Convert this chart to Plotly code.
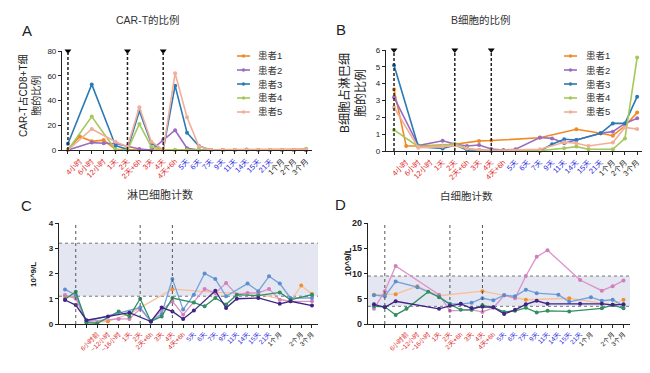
import plotly.graph_objects as go

W, H = 650, 373
def px(x): return x / W
def py(y): return 1 - y / H

FONT = "Liberation Sans, Noto Sans CJK SC, sans-serif"
RED, BLUE, BLACK = "#e02b2b", "#2b2bdf", "#222222"

# ---------------- data ----------------
AB_labels = ["", "4小时", "6小时", "12小时", "1天", "2天", "2天+6h", "3天", "4天", "4天+6h",
             "5天", "6天", "7天", "9天", "11天", "14天", "15天", "21天", "1个月", "2个月", "3个月"]
CD_labels = ["", "", "", "6小时前", "~12小时", "~16小时", "1天", "2天", "2天+6h", "3天", "4天", "4天+6h",
             "5天", "6天", "7天", "9天", "11天", "14天", "15天", "21天", "1个月", "", "2个月", "3个月"]
patients = ["患者1", "患者2", "患者3", "患者4", "患者5"]

N = None
# Panel A: CAR-T in CD8+ T (%)
A_p1 = [0.5, 11, 7, 8, 0.5, 0, 0, 0, 0, 0, 0, 0, 0, 0, 0, 0, 0, 0, 0, 0, 0.5]
A_p2 = [0, N, 6, 5.5, 5, 3, 0.8, 0, 8, 16, 1.4, 0, 0, 0, 0, 0.5, 0, 0, 0, 0, 0]
A_p3 = [5, N, 53, N, 3.5, 0.5, 31.5, 5.5, 0, 52, 14, 3.2, 0, 0, 0, 0, 0, 0, 0, 0, 0]
A_p4 = [0, N, 27, N, 0, 0, 21, 2.7, 0, 0, 0, 0, 0, 0, 0, 0, 0, 0, 0, 0, 1]
A_p5 = [0, N, 17, N, 6.7, 2.7, 34.5, 6.7, 0, 62, 26.4, 3, 0, 0, 0, 0, 0, 0, 0, 0, 0.5]

# Panel B: B cells in lymphocytes (%)
B_p1 = [3.66, 0.3, 0.3, N, N, 0.4, N, 0.6, 0.62, N, N, N, 0.79, N, N, 1.29, N, 1.05, 0.91, 1.5, 2.28]
B_p2 = [3.19, N, 0.32, N, 0.61, 0.42, 0.3, 0.36, 0.12, 0.06, 0.1, N, 0.8, 0.75, 0.46, 0.65, N, 1.05, 1.15, 1.64, 1.94]
B_p3 = [5.1, N, 0.26, N, 0.15, 0.35, 0.06, 0.06, 0.0, N, N, N, 0.0, 0.4, 0.7, 0.65, N, 1.05, 1.64, 1.64, 3.23]
B_p4 = [1.25, N, 0.26, N, 0.32, 0.42, 0.16, 0.06, 0.02, N, N, N, 0.02, N, 0.16, 0.26, 0.1, N, 0.1, 0.75, 5.55]
B_p5 = [2.6, N, 0.2, N, 0.26, 0.32, 0.15, 0.06, 0.03, N, N, N, 0.1, N, 0.52, 0.46, 0.3, N, 0.5, 1.4, 1.3]

# Panel C: lymphocyte count (10^9/L)
C_orange = [1.1, 1.05, 0.05, N, 0.1, N, 0.4, N, N, N, 1.38, N, N, N, 1.25, N, N, N, 1.19, N, N, 0.9, 1.52, 1.19]
C_pink   = [1.15, 1.0, 0.1, N, N, 0.2, 0.2, 0.6, 0.1, 0.55, 0.9, 0.37, N, 1.39, 1.23, 1.62, 1.16, 1.23, 1.23, 1.39, 0.96, 0.9, N, 0.9]
C_blue   = [1.37, 1.15, 0.1, N, N, N, N, 0.65, 0.1, 0.4, 1.78, 0.57, 1.16, 2.0, 1.78, 1.1, N, 1.6, 1.3, 1.89, 1.6, 1.03, N, 1.03]
C_green  = [0.98, 1.28, 0.05, 0.03, N, 0.5, 0.3, 1.0, 0.1, 0.3, 1.03, N, 0.85, 0.7, 1.03, 0.77, 1.16, N, 1.12, N, 1.25, 0.96, N, 1.16]
C_purple = [0.95, 0.75, 0.15, N, 0.3, N, 0.45, N, 0.1, 0.65, 0.5, 0.2, 0.53, N, 1.32, 0.63, 1.0, N, 1.03, N, 0.8, 0.9, N, 0.73]

# Panel D: white blood cell count (10^9/L)
D_orange = [5.8, 5.8, 5.9, N, 7.5, N, 5.6, N, N, N, 6.5, N, 5.7, N, 4.8, N, N, N, 5.1, N, N, N, 3.8, 4.8]
D_pink   = [3.0, 6.5, 11.5, N, N, N, 5.8, 2.6, N, 2.8, 2.4, 3.2, 5.7, 5.1, 9.5, 13.3, 14.6, N, N, 8.7, N, 6.6, 7.5, 8.6]
D_blue   = [5.7, 5.5, 8.4, N, 7.3, N, 5.4, 4.0, 4.0, 4.2, 5.1, 4.7, 5.7, 5.5, 6.8, 6.1, N, 5.8, 4.4, N, 5.3, 4.6, 4.8, 3.6]
D_green  = [3.5, 3.4, 1.8, 3.0, N, 6.4, 5.3, 3.9, 2.8, 2.8, 3.7, 3.3, 2.4, 2.6, 3.2, 2.3, 2.6, N, 2.5, N, N, 3.1, 3.8, 3.1]
D_purple = [3.9, 3.3, 4.5, N, N, N, 3.0, 3.6, 4.0, 3.1, 3.4, 3.3, 2.0, 2.8, 3.9, 4.6, 4.0, N, N, 4.0, N, 4.0, 3.8, 3.9]

AB_markers = [0, 5, 8]      # infusion positions (A/B)
CD_markers = [1, 7, 10]     # infusion positions (C/D)

# ---------------- styles ----------------
ab_colors = ["#f08a24", "#9a6cc0", "#2a7ab5", "#a4c85c", "#f2ae98"]
cd_series = [
    (C_orange, D_orange, "#f7c09a", "#ef8f2f"),
    (C_pink, D_pink, "#dc92c8", "#cf7fbd"),
    (C_blue, D_blue, "#74a2da", "#5b8dd0"),
    (C_green, D_green, "#2f8f62", "#2f8f62"),
    (C_purple, D_purple, "#3f2385", "#3f2385"),
]

fig = go.Figure()

def add_series(vals, xa, ya, lc, mc, lw, ms):
    fig.add_trace(go.Scatter(
        x=list(range(len(vals))), y=vals, xaxis=xa, yaxis=ya, mode="lines+markers",
        connectgaps=True, cliponaxis=False, showlegend=False,
        line=dict(color=lc, width=lw), marker=dict(color=mc, size=ms), hoverinfo="skip"))

for vals, c in zip([A_p1, A_p2, A_p3, A_p4, A_p5], ab_colors):
    add_series(vals, "x", "y", c, c, 1.6, 4)
for vals, c in zip([B_p1, B_p2, B_p3, B_p4, B_p5], ab_colors):
    add_series(vals, "x2", "y2", c, c, 1.6, 4)
for cv, dv, lc, mc in cd_series:
    add_series(cv, "x3", "y3", lc, mc, 1.3, 4)
for cv, dv, lc, mc in cd_series:
    add_series(dv, "x4", "y4", lc, mc, 1.3, 4)

# triangles (infusion markers)
fig.add_trace(go.Scatter(x=AB_markers, y=[80]*3, xaxis="x", yaxis="y", mode="markers", cliponaxis=False,
                         showlegend=False, marker=dict(symbol="triangle-down", size=6, color="black")))
fig.add_trace(go.Scatter(x=AB_markers, y=[6]*3, xaxis="x2", yaxis="y2", mode="markers", cliponaxis=False,
                         showlegend=False, marker=dict(symbol="triangle-down", size=6, color="black")))
fig.add_trace(go.Scatter(x=CD_markers, y=[4.22]*3, xaxis="x3", yaxis="y3", mode="markers", cliponaxis=False,
                         showlegend=False, marker=dict(symbol="triangle-down", size=12, color="black")))
fig.add_trace(go.Scatter(x=CD_markers, y=[21.1]*3, xaxis="x4", yaxis="y4", mode="markers", cliponaxis=False,
                         showlegend=False, marker=dict(symbol="triangle-down", size=12, color="black")))

def tick_text(labels, n_red, n_blue):
    out = []
    for i, t in enumerate(labels):
        c = RED if i < n_red else (BLUE if i < n_red + n_blue else BLACK)
        out.append(f'<span style="color:{c}">{t}</span>')
    return out

def xax(dom, rng, labels, nred, nblue, anchor, fs):
    return dict(domain=dom, range=rng, anchor=anchor, tickmode="array",
                tickvals=list(range(len(labels))), ticktext=tick_text(labels, nred, nblue),
                tickangle=-45, tickfont=dict(size=fs, family=FONT), showline=True, linecolor="#222",
                linewidth=1.2, ticks="outside", ticklen=3, tickcolor="#222", showgrid=False,
                zeroline=False, automargin=False)

def yax(dom, rng, dtick, anchor, fs, bold=False):
    vals = []
    v = rng[0]
    while v <= rng[1] + 1e-9:
        vals.append(v)
        v += dtick
    txt = [(f"<b>{int(t)}</b>" if bold else f"{int(t)}") for t in vals]
    return dict(domain=dom, range=rng, anchor=anchor, tickmode="array", tickvals=vals, ticktext=txt,
                tickfont=dict(size=fs, family=FONT, color="#222"), showline=True, linecolor="#222",
                linewidth=1.2, ticks="outside", ticklen=3, tickcolor="#222", showgrid=False,
                zeroline=False, automargin=False)

fig.update_layout(
    width=W, height=373, autosize=False, margin=dict(l=0, r=0, t=0, b=0),
    paper_bgcolor="white", plot_bgcolor="rgba(0,0,0,0)", showlegend=False,
    font=dict(family=FONT, color="#222"),
    xaxis=xax([px(62), px(312)], [-0.5, 20.5], AB_labels, 10, 8, "y", 7.5),
    yaxis=yax([py(150), py(51)], [0, 80], 20, "x", 8),
    xaxis2=xax([px(386), px(642)], [-0.66, 20.4], AB_labels, 10, 8, "y2", 7.5),
    yaxis2=yax([py(151), py(50)], [0, 6], 1, "x2", 8),
    xaxis3=xax([px(59), px(318)], [-0.56, 23.56], CD_labels, 12, 8, "y3", 6.5),
    yaxis3=yax([py(324), py(223)], [0, 4], 1, "x3", 8, bold=True),
    xaxis4=xax([px(368), px(630)], [-0.55, 23.6], CD_labels, 12, 8, "y4", 6.5),
    yaxis4=yax([py(324), py(223)], [0, 20], 5, "x4", 9, bold=True),
)

shapes = []
# reference bands
for xa, ya, lo, hi in [("x3", "y3", 1.1, 3.2), ("x4", "y4", 3.5, 9.5)]:
    shapes.append(dict(type="rect", xref=f"{xa} domain", yref=ya, x0=0, x1=1, y0=lo, y1=hi,
                       fillcolor="#e4e6f2", line=dict(width=0), layer="below"))
    for v in (lo, hi):
        shapes.append(dict(type="line", xref=f"{xa} domain", yref=ya, x0=0, x1=1, y0=v, y1=v,
                           line=dict(color="#777", width=1, dash="dot"), layer="below"))
# vertical infusion lines
for m in AB_markers:
    shapes.append(dict(type="line", xref="x", yref="y", x0=m, x1=m, y0=0, y1=80,
                       line=dict(color="#222", width=1.5, dash="3px,2px")))
    shapes.append(dict(type="line", xref="x2", yref="y2", x0=m, x1=m, y0=0, y1=6,
                       line=dict(color="#222", width=1.5, dash="3px,2px")))
for m in CD_markers:
    shapes.append(dict(type="line", xref="x3", yref="y3", x0=m, x1=m, y0=0, y1=4.2,
                       line=dict(color="#555", width=1, dash="dot")))
    shapes.append(dict(type="line", xref="x4", yref="y4", x0=m, x1=m, y0=0, y1=21,
                       line=dict(color="#555", width=1, dash="dot")))

annotations = []
# manual legends
for lx0, tx in [(237, 256), (564, 584)]:
    for i, (name, c) in enumerate(zip(patients, ab_colors)):
        yy = 56 + i * 14
        shapes.append(dict(type="line", xref="paper", yref="paper", x0=px(lx0), x1=px(lx0 + 13),
                           y0=py(yy), y1=py(yy), line=dict(color=c, width=1.6)))
        shapes.append(dict(type="circle", xref="paper", yref="paper", x0=px(lx0 + 4.8), x1=px(lx0 + 8.2),
                           y0=py(yy + 1.7), y1=py(yy - 1.7), fillcolor=c, line=dict(width=0)))
        annotations.append(dict(text=name, xref="paper", yref="paper", x=px(tx), y=py(yy),
                                xanchor="left", yanchor="middle", showarrow=False,
                                font=dict(size=9.5, color="#333")))

def txt(t, x, y, size, angle=0, color="#333"):
    annotations.append(dict(text=t, xref="paper", yref="paper", x=px(x), y=py(y), xanchor="center",
                            yanchor="middle", showarrow=False, textangle=angle,
                            font=dict(size=size, color=color, family=FONT)))

txt("CAR-T的比例", 148, 20, 10.5)
txt("B细胞的比例", 481, 20, 10.5)
txt("淋巴细胞计数", 160, 195, 11)
txt("白细胞计数", 466, 196, 10.5)
txt("A", 27, 30, 15, color="#222")
txt("B", 341, 29, 15, color="#222")
txt("C", 26, 205, 15, color="#222")
txt("D", 340, 204, 15, color="#222")
txt("CAR-T占CD8+T细<br>胞的比例", 30, 96, 10, angle=-90, color="#222")
txt("B细胞占淋巴细<br>胞的比例", 353, 93, 12, angle=-90, color="#222")
txt("<b>10^9/L</b>", 33, 275, 8, angle=-90, color="#222")
txt("<b>10^9/L</b>", 348, 262, 9, angle=-90, color="#222")

fig.update_layout(shapes=shapes, annotations=annotations)
fig.write_html("out.html", config={"displayModeBar": False},
               post_script="document.body.style.margin='0';")
